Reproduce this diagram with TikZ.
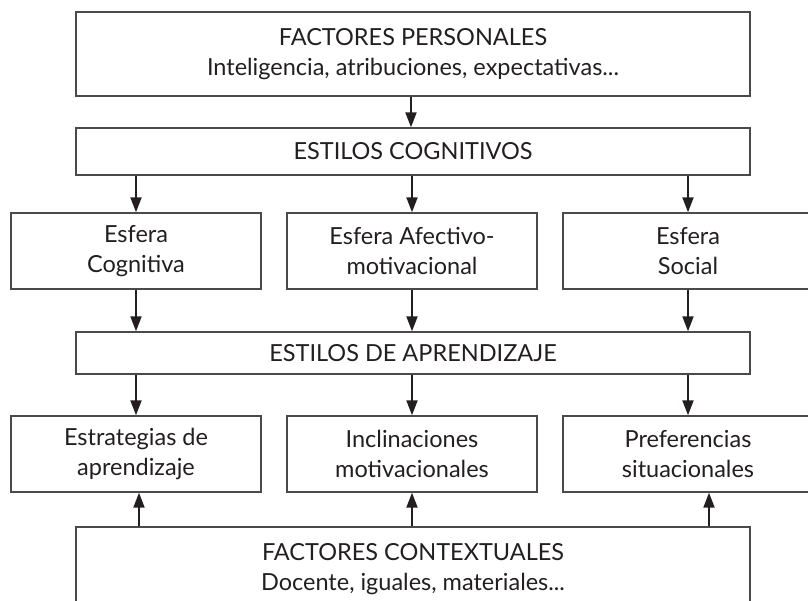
\documentclass[tikz,border=0pt]{standalone}
\usepackage{fontspec}
\setmainfont{Lato}
\usetikzlibrary{arrows.meta}
\definecolor{ink}{HTML}{231F20}
\definecolor{frame}{HTML}{4A4A4A}
\begin{document}
\begin{tikzpicture}[x=1pt,y=-1pt,
  box/.style={draw=frame,line width=1.4pt,fill=white,inner sep=0pt,align=center,
    text=ink,font=\fontsize{23.5}{30}\selectfont},
  wide/.style={box,minimum width=674pt},
  narrow/.style={box,minimum width=250pt,minimum height=76pt},
  arr/.style={draw=ink,line width=2pt,-{Triangle[length=15pt,width=11pt]}}]
\useasboundingbox (0,0) rectangle (808,600);
\clip (0,0) rectangle (808,600);
\node[wide,minimum height=84pt] (fp) at (413,54) {FACTORES PERSONALES\\Inteligencia, atribuciones, expectativas...};
\node[wide,minimum height=47pt] (ec) at (413,151.5) {ESTILOS COGNITIVOS};
\node[narrow] (e1) at (136,251) {Esfera\\Cognitiva};
\node[narrow] (e2) at (412,251) {Esfera Afectivo-\\motivacional};
\node[narrow] (e3) at (688,251) {Esfera\\Social};
\node[wide,minimum height=42pt] (ea) at (413,353) {ESTILOS DE APRENDIZAJE};
\node[narrow] (b1) at (136,454) {Estrategias de\\aprendizaje};
\node[narrow] (b2) at (412,454) {Inclinaciones\\motivacionales};
\node[narrow] (b3) at (688,454) {Preferencias\\situacionales};
\node[wide,minimum height=84pt] (fc) at (413,569) {FACTORES CONTEXTUALES\\Docente, iguales, materiales...};
\draw[arr] ([xshift=-2pt]fp.south) -- ([xshift=-2pt]ec.north);
\foreach \n in {e1,e2,e3}{
  \draw[arr] (\n.north |- ec.south) -- (\n.north);
  \draw[arr] (\n.south) -- (\n.south |- ea.north);
}
\foreach \n in {b1,b2,b3}{
  \draw[arr] (\n.north |- ea.south) -- (\n.north);
}
\draw[arr] ([xshift=3pt]b1.south |- fc.north) -- ([xshift=3pt]b1.south);
\draw[arr] (b2.south |- fc.north) -- (b2.south);
\draw[arr] ([xshift=21pt]b3.south |- fc.north) -- ([xshift=21pt]b3.south);
\end{tikzpicture}
\end{document}
